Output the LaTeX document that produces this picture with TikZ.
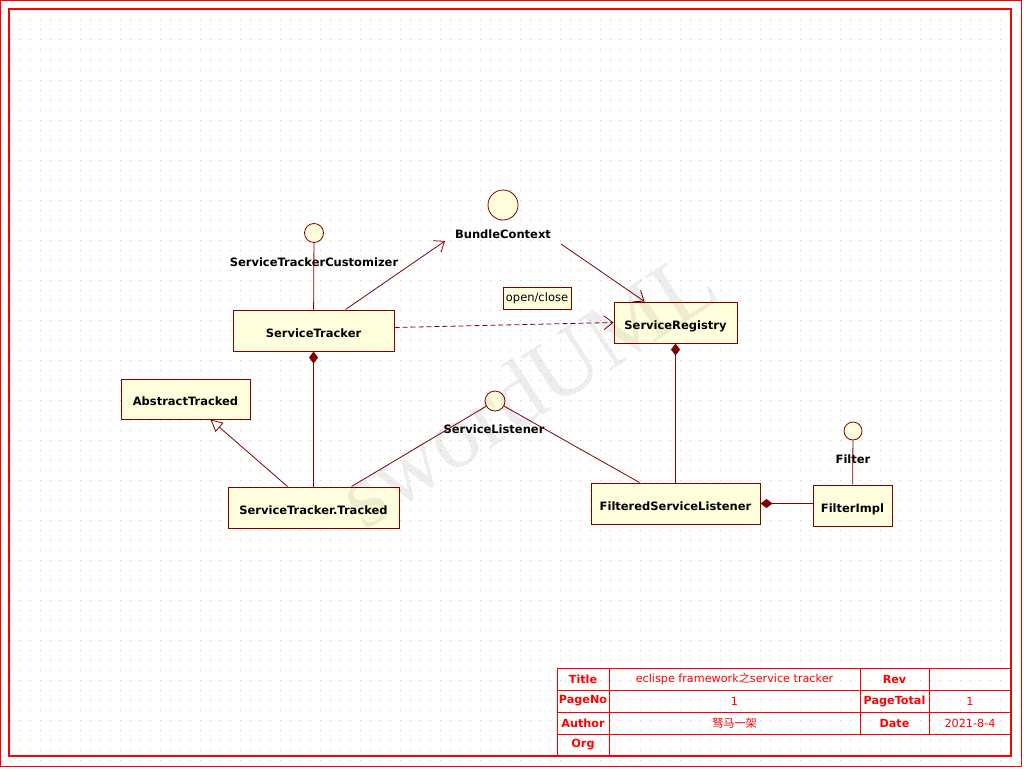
\documentclass[tikz,border=0pt]{standalone}
\usepackage{fontspec}
\setmainfont{DejaVu Sans}
\newfontfamily\cjkfont{Noto Sans CJK SC}
\newfontfamily\markfont{Liberation Serif}
\usepackage{xcolor}
\definecolor{umlred}{RGB}{128,0,0}
\definecolor{umlfill}{RGB}{255,255,221}
\definecolor{sheetred}{RGB}{255,0,0}
\usetikzlibrary{arrows.meta, positioning, calc}

\tikzset{
  cls/.style={draw=umlred, fill=umlfill, line width=1pt, inner sep=0pt,
              text height=13pt, text depth=0pt, font=\fontsize{11.5}{13}\selectfont\bfseries},
  iface/.style={circle, draw=umlred, fill=umlfill, line width=0.8pt, inner sep=0pt},
  ilabel/.style={font=\fontsize{11.5}{13}\selectfont\bfseries, inner sep=1pt},
  assoc/.style={draw=umlred, line width=0.8pt},
  dep/.style={draw=umlred, line width=0.8pt, -{Straight Barb[length=9pt,width=14pt]}},
  gen/.style={draw=umlred, line width=0.8pt, -{Triangle[open,length=12pt,width=12pt,fill=white]}},
  comp/.style={draw=umlred, line width=1pt, {Diamond[length=12pt,width=9pt,fill=umlred]}-},
  tcell/.style={font=\fontsize{11.2}{13}\selectfont\bfseries, text=sheetred, inner sep=0pt},
  tval/.style={font=\fontsize{11.2}{13}\selectfont, text=sheetred, inner sep=0pt}
}

\begin{document}
\begin{tikzpicture}[x=1pt, y=-1pt]
  \useasboundingbox (0,0) rectangle (1024,768);

  % dot grid
  \foreach \gy in {20,30,...,760}
    \draw[gray!45, line width=1pt, dash pattern=on 1pt off 9pt]
         (9.5,\gy) -- (1011,\gy);

  % frames
  \draw[sheetred, line width=1.2pt] (0.6,0.6) rectangle (1021.4,766.4);
  \draw[sheetred, line width=1.2pt] (9,9) rectangle (1011,756);

  % Classes
  \node[cls, minimum width=161, minimum height=41] (st) at (313.5,330.5) {ServiceTracker};
  \node[cls, minimum width=123, minimum height=41] (sr) at (675.5,322.5) {ServiceRegistry};
  \node[cls, minimum width=129, minimum height=40] (at) at (185.5,399) {AbstractTracked};
  \node[cls, minimum width=171, minimum height=41] (tr) at (313.5,507.5) {ServiceTracker.Tracked};
  \node[cls, minimum width=169, minimum height=41] (fsl) at (675.5,503.5) {FilteredServiceListener};
  \node[cls, minimum width=79, minimum height=41] (fi) at (852.5,505.5) {FilterImpl};

  % Interfaces
  \node[iface, minimum size=19] (stc) at (314,233) {};
  \node[ilabel] (stclbl) at (314,262) {ServiceTrackerCustomizer};
  \node[iface, minimum size=30] (bc) at (503,205) {};
  \node[ilabel] (bclbl) at (503,234) {BundleContext};
  \node[iface, minimum size=20] (sl) at (495,401) {};
  \node[ilabel] (sllbl) at (494,429) {ServiceListener};
  \node[iface, minimum size=18] (flt) at (853,431) {};
  \node[ilabel] (fltlbl) at (853,459) {Filter};

  % note
  \node[draw=umlred, fill=umlfill, line width=0.8pt, inner sep=2pt,
        minimum width=68, minimum height=22, font=\fontsize{11.5}{13}\selectfont]
       (oc) at (537,298) {open/close};

  % Connectors
  \coordinate (bcin) at (445,241);
  \coordinate (bcout) at (561,244);
  \draw[assoc] (stc) -- (st);
  \draw[dep] ($(st.north)+(32,0)$) -- (bcin);
  \draw[dep] (bcout) -- ($(sr.north west)+(31,0)$);
  \draw[dep, dashed, dash pattern=on 5pt off 3pt] ($(st.east)+(0,-3)$) -- (sr.west);
  \draw[comp] (sr.south) -- (fsl.north);
  \draw[comp] (st.south) -- (tr.north);
  \draw[gen] ($(tr.north)+(-26,0)$) -- ($(at.south)+(25,0)$);
  \draw[assoc] (sl) -- ($(tr.north)+(38,0)$);
  \draw[assoc] (sl) -- ($(fsl.north)+(-36,0)$);
  \draw[comp] (fsl.east) -- (fsl.east -| fi.west);
  \draw[assoc] (flt) -- (fi);

  % watermark
  \node[rotate=33, text=black, text opacity=0.07,
        font=\markfont\fontsize{92}{94}\selectfont]
       (mark) at (527,388) {swordUML};

  % Title block
  \draw[sheetred, line width=1pt] (557,668) rectangle (1011,756);
  \foreach \ry in {690,712,734}
    \draw[sheetred, line width=1pt] (557,\ry) -- (1011,\ry);
  \draw[sheetred, line width=1pt] (609,668) -- (609,756);
  \draw[sheetred, line width=1pt] (860,668) -- (860,734);
  \draw[sheetred, line width=1pt] (929,668) -- (929,734);

  \node[tcell] (tTitle) at (583,679) {Title};
  \node[tval]  (vTitle) at (734.5,679) {eclispe framework{\cjkfont 之}service tracker};
  \node[tcell] (tRev) at (894.5,679) {Rev};
  \node[tcell] (tPage) at (583,701) {PageNo};
  \node[tval]  (vPage) at (734.5,701) {1};
  \node[tcell] (tTotal) at (894.5,701) {PageTotal};
  \node[tval]  (vTotal) at (970,701) {1};
  \node[tcell] (tAuthor) at (583,723) {Author};
  \node[tval]  (vAuthor) at (734.5,723) {\cjkfont 驽马一架};
  \node[tcell] (tDate) at (894.5,723) {Date};
  \node[tval]  (vDate) at (970,723) {2021-8-4};
  \node[tcell] (tOrg) at (583,745) {Org};
\end{tikzpicture}
\end{document}
